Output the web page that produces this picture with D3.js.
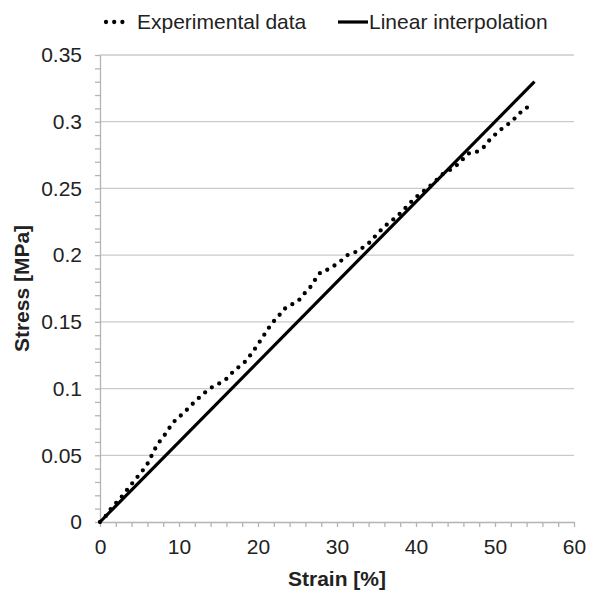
<!DOCTYPE html>
<html>
<head>
<meta charset="utf-8">
<script src="https://cdn.jsdelivr.net/npm/d3@7"></script>
<style>
  body { margin: 0; background: #fff; }
  svg { font-family: "Liberation Sans", Arial, sans-serif; }
</style>
</head>
<body>
<div id="chart"></div>
<script>
// experimental curve (strain in %, stress in MPa)
const expStrain = [0, 0.8, 1.56, 2.4, 3.16, 3.8, 4.56, 5.3, 6.0, 7.0, 7.63, 8.35, 9.0, 9.7,
  10.6, 11.35, 12.24, 13.07, 14.0, 14.94, 15.86, 16.75, 17.6, 18.48, 19.15, 19.87, 20.5,
  21.1, 21.77, 22.57, 23.25, 24.2, 25.2, 25.9, 26.67, 27.3, 27.97, 28.95, 29.8, 30.6,
  31.5, 32.4, 33.25, 34.1, 34.9, 35.7, 36.5, 37.4, 38.3, 39.06, 39.9, 40.76, 41.7, 42.4,
  43.4, 44.3, 45.2, 46.0, 46.8, 47.8, 48.6, 49.4, 50.25, 51.1, 52.0, 52.8, 53.67, 54.6];
const expStress = [0, 0.005, 0.0115, 0.0165, 0.022, 0.027, 0.0325, 0.0377, 0.0435, 0.0552,
  0.061, 0.0665, 0.0725, 0.0774, 0.0815, 0.0864, 0.0915, 0.096, 0.1004, 0.1034, 0.1064,
  0.112, 0.1164, 0.1207, 0.126, 0.132, 0.1377, 0.1432, 0.149, 0.154, 0.1594, 0.1627,
  0.1664, 0.1714, 0.1764, 0.1822, 0.1876, 0.1894, 0.1927, 0.1962, 0.2009, 0.2024, 0.2056,
  0.2094, 0.2146, 0.2196, 0.224, 0.228, 0.233, 0.238, 0.243, 0.247, 0.2514, 0.2551,
  0.2609, 0.2639, 0.2676, 0.2723, 0.2768, 0.2776, 0.2811, 0.2869, 0.2916, 0.2959, 0.2996,
  0.3043, 0.3096, 0.3121];

// linear fit
const linStrain = [0, 55];
const linStress = [0, 0.33];

const xTicks = [0, 10, 20, 30, 40, 50, 60];
const yTicks = [0, 0.05, 0.1, 0.15, 0.2, 0.25, 0.3, 0.35];

const legendLabels = ["Experimental data", "Linear interpolation"];

const width = 590;
const height = 590;
const marginLeft = 100;
const marginRight = 16;
const marginTop = 55;
const marginBottom = 68;
const fontSize = 21;

const svg = d3.select("#chart").append("svg")
  .attr("width", width)
  .attr("height", height);

const x = d3.scaleLinear()
  .domain([0, 60])
  .range([marginLeft, width - marginRight]);

const y = d3.scaleLinear()
  .domain([0, 0.35])
  .range([height - marginBottom, marginTop]);

// horizontal gridlines
svg.append("g")
  .attr("stroke", "#cacaca")
  .attr("stroke-width", 1.3)
  .selectAll()
  .data(yTicks.slice(1))
  .join("line")
    .attr("x1", x(0))
    .attr("x2", x(60))
    .attr("y1", d => y(d))
    .attr("y2", d => y(d));

// minor ticks
const xMinor = d3.range(0, 60.01, 2);
const yMinor = d3.range(0, 0.3501, 0.01);

const xAxis = svg.append("g")
  .attr("transform", `translate(0,${y(0)})`)
  .call(d3.axisBottom(x).tickValues(xMinor).tickSize(5).tickSizeOuter(0).tickFormat(""));
xAxis.selectAll("line, path").attr("stroke", "#b4b4b4").attr("stroke-width", 1.3);

svg.append("g")
  .attr("transform", `translate(0,${y(0)})`)
  .call(d3.axisBottom(x).tickValues(xTicks).tickSize(0).tickPadding(17).tickFormat(d3.format("d")))
  .call(g => g.select(".domain").remove())
  .call(g => g.selectAll("text").attr("font-size", fontSize).attr("fill", "#222").attr("font-family", "Liberation Sans, Arial, sans-serif"));

const yAxis = svg.append("g")
  .attr("transform", `translate(${x(0)},0)`)
  .call(d3.axisLeft(y).tickValues(yMinor).tickSize(5).tickSizeOuter(0).tickFormat(""));
yAxis.selectAll("line, path").attr("stroke", "#b4b4b4").attr("stroke-width", 1.3);

svg.append("g")
  .attr("transform", `translate(${x(0)},0)`)
  .call(d3.axisLeft(y).tickValues(yTicks).tickSize(0).tickPadding(18).tickFormat(d => d === 0 ? "0" : String(+d.toFixed(2))))
  .call(g => g.select(".domain").remove())
  .call(g => g.selectAll("text").attr("font-size", fontSize).attr("fill", "#222").attr("font-family", "Liberation Sans, Arial, sans-serif"));

// axis titles
svg.append("text")
  .attr("x", (x(0) + x(60)) / 2)
  .attr("y", 586)
  .attr("text-anchor", "middle")
  .attr("font-size", fontSize)
  .attr("font-weight", "bold")
  .attr("fill", "#222")
  .text("Strain [%]");

svg.append("text")
  .attr("transform", `translate(29,${(y(0) + y(0.35)) / 2}) rotate(-90)`)
  .attr("text-anchor", "middle")
  .attr("font-size", fontSize)
  .attr("font-weight", "bold")
  .attr("fill", "#222")
  .text("Stress [MPa]");

// lines
const line = d3.line()
  .x(d => x(d[0]))
  .y(d => y(d[1]));

const linData = d3.zip(linStrain, linStress);
const expData = d3.zip(expStrain, expStress);

svg.append("path")
  .datum(linData)
  .attr("fill", "none")
  .attr("stroke", "#000")
  .attr("stroke-width", 3.2)
  .attr("d", line);

svg.append("path")
  .datum(expData)
  .attr("fill", "none")
  .attr("stroke", "#000")
  .attr("stroke-width", 4.3)
  .attr("stroke-linecap", "round")
  .attr("stroke-dasharray", "0 8.4")
  .attr("d", line);

// legend
const legend = svg.append("g").attr("font-size", fontSize).attr("fill", "#222");

legend.append("line")
  .attr("x1", 106).attr("x2", 127)
  .attr("y1", 22).attr("y2", 22)
  .attr("stroke", "#000")
  .attr("stroke-width", 4.3)
  .attr("stroke-linecap", "round")
  .attr("stroke-dasharray", "0 8.2");

legend.append("text")
  .attr("x", 137).attr("y", 29)
  .text(legendLabels[0]);

legend.append("line")
  .attr("x1", 338).attr("x2", 368)
  .attr("y1", 22).attr("y2", 22)
  .attr("stroke", "#000")
  .attr("stroke-width", 3.2);

legend.append("text")
  .attr("x", 369).attr("y", 29)
  .text(legendLabels[1]);
</script>
</body>
</html>
